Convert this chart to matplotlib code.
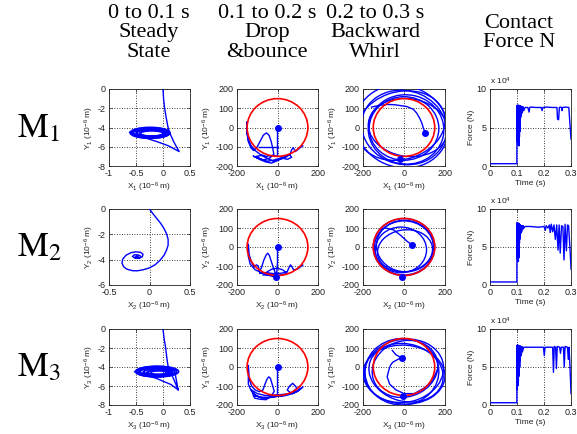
import matplotlib
matplotlib.use('Agg')
import matplotlib.pyplot as plt
from matplotlib.patches import Circle, Ellipse

plt.rcParams['font.family'] = ['Liberation Sans', 'DejaVu Sans']
plt.rcParams['mathtext.fontset'] = 'custom'
plt.rcParams['mathtext.rm'] = 'Liberation Sans'
plt.rcParams['mathtext.it'] = 'Liberation Sans:italic'
plt.rcParams['mathtext.bf'] = 'Liberation Sans:bold'
plt.rcParams['axes.unicode_minus'] = False

# ---------------- headers ----------------
col_titles = ["0 to 0.1 s\nSteady\nState", "0.1 to 0.2 s\nDrop\n&bounce",
              "0.2 to 0.3 s\nBackward\nWhirl", "Contact\nForce N"]
row_labels = ["1", "2", "3"]

# ---------------- steady state (10^-6 m) ----------------
ss1_x = [0.00, 0.01, 0.03, 0.06, 0.09, 0.12, 0.20, 0.30, 0.10, -0.12, -0.40, -0.62, -0.45, -0.20, 0.05, 0.12]
ss1_y = [0.00, -1.00, -2.00, -3.00, -3.90, -4.50, -5.50, -6.50, -5.90, -5.45, -4.95, -4.50, -4.20, -4.10, -4.20, -4.50]
ss1_loop_cx = [-0.24, -0.23, -0.22, -0.24, -0.21, -0.22, -0.23, -0.20, -0.21]
ss1_loop_cy = [-4.55, -4.57, -4.60, -4.52, -4.58, -4.62, -4.55, -4.60, -4.62]
ss1_loop_w = [0.74, 0.70, 0.66, 0.62, 0.58, 0.54, 0.50, 0.46, 0.42]
ss1_loop_h = [1.15, 1.08, 1.00, 0.92, 0.85, 0.78, 0.70, 0.62, 0.52]

ss2_x = [0.00, 0.04, 0.09, 0.14, 0.18, 0.21, 0.23, 0.23, 0.21, 0.18, 0.13, 0.07, 0.00, -0.08, -0.15,
         -0.21, -0.28, -0.32, -0.34, -0.33, -0.29, -0.23, -0.17, -0.11, -0.08, -0.09, -0.13, -0.18,
         -0.21, -0.19, -0.14, -0.11, -0.12, -0.16, -0.18, -0.16, -0.14, -0.15]
ss2_y = [0.00, -0.35, -0.75, -1.15, -1.55, -1.95, -2.40, -2.85, -3.25, -3.65, -4.05, -4.40, -4.65, -4.80, -4.88,
         -4.87, -4.75, -4.55, -4.25, -3.95, -3.65, -3.45, -3.38, -3.42, -3.58, -3.78, -3.90, -3.88,
         -3.75, -3.62, -3.62, -3.72, -3.85, -3.88, -3.80, -3.72, -3.75, -3.80]

ss3_x = [0.00, 0.02, 0.05, 0.07, 0.09, 0.12, 0.20, 0.28, 0.15, -0.10, -0.35, -0.53, -0.30, 0.00, 0.20, 0.23, 0.28]
ss3_y = [0.00, -1.00, -2.00, -3.00, -3.80, -4.30, -5.30, -6.40, -5.85, -5.25, -4.75, -4.50, -4.15, -4.05, -4.25, -4.85, -6.40]
ss3_loop_cx = [-0.11, -0.12, -0.10, -0.11, -0.12, -0.10, -0.11, -0.09, -0.10, -0.08]
ss3_loop_cy = [-4.48, -4.50, -4.46, -4.52, -4.49, -4.55, -4.50, -4.58, -4.55, -4.60]
ss3_loop_w = [0.80, 0.75, 0.70, 0.65, 0.60, 0.54, 0.48, 0.42, 0.36, 0.30]
ss3_loop_h = [1.15, 1.08, 1.00, 0.92, 0.84, 0.74, 0.64, 0.54, 0.45, 0.36]

# ---------------- drop & bounce (10^-6 m) ----------------
clearance_radius = 150

d1_x = [0, 0, 0, -25, -55, -85, -110, -130, -145, -152, -150, -151, -145, -132, -118, -100, -85, -70, -55,
        -42, -32, -24, -18, -40, -70, -100, -120, -90, -60, -30, 0, 25, 50, 70, 60, 40, 10, -20, -50, -80,
        -105, -80, -50, -20, 10, 40, 62, 70, 78, 88, 100, 112, 125]
d1_y = [0, -75, -150, -145, -150, -140, -120, -95, -60, -20, 30, -20, -70, -105, -120, -100, -70, -40, -28,
        -40, -70, -105, -140, -160, -168, -158, -148, -165, -178, -185, -172, -160, -165, -155, -140, -150,
        -160, -170, -175, -165, -150, -145, -160, -175, -165, -155, -140, -115, -105, -125, -115, -105, -95]
d1b_x = [-90, 0]
d1b_y = [-100, -100]
d1_dot_x = [0]
d1_dot_y = [0]

d2_x = [0, 0, -5, -40, -80, -110, -135, -144, -144, -140, -128, -115, -104, -95, -90, -80, -68, -55, -48, -40,
        -28, -16, -10, -40, -72, -50, -25, 0, 25, 48, 30, 0, -40, -88, -60, -20, 20, 48, 56, 64, 72, 80, 100, 125]
d2_y = [0, -80, -160, -150, -135, -120, -90, -50, 15, -40, -80, -105, -94, -100, -125, -112, -70, -40, -33, -45,
        -85, -121, -140, -148, -147, -130, -115, -112, -120, -138, -145, -150, -140, -138, -135, -140, -138,
        -130, -110, -94, -105, -121, -115, -95]
d2_dot_x = [0, -5]
d2_dot_y = [0, -160]

d3_x = [0, 0, 0, -30, -70, -105, -130, -144, -144, -140, -128, -110, -90, -72, -60, -50, -43, -35, -25, -16,
        -30, -56, -85, -112, -120, -100, -72, -40, 0, 40, 75, 100, 120, 100, 75, 60, 48, 60, 75, 88, 96, 70,
        30, -10, -50, -90, -120, -128, -100, -60, -20, 20, 60, 100, 125]
d3_y = [0, -75, -150, -160, -165, -150, -125, -90, 9, -60, -100, -121, -130, -121, -85, -60, -52, -60, -95,
        -129, -150, -172, -170, -164, -150, -155, -164, -160, -155, -150, -140, -125, -110, -128, -140, -132,
        -121, -100, -86, -100, -112, -135, -150, -155, -160, -158, -145, -121, -140, -150, -148, -145, -140,
        -125, -105]
d3_dot_x = [0]
d3_dot_y = [0]

# ---------------- backward whirl (10^-6 m) ----------------
w1_cx = [0, 10, -10, 0, 20, -15]
w1_cy = [0, -10, 5, -5, 0, 10]
w1_w = [420, 370, 460, 340, 390, 440]
w1_h = [380, 360, 420, 330, 300, 350]
w1_ang = [-25, -15, -30, 0, -10, 20]
w1_x = [-158, -120, -80, -44, 13, 45, 62, 78, 87, 95, 103]
w1_y = [106, 115, 120, 118, 109, 95, 75, 45, 23, -5, -28]
w1_dot_x = [103, -20]
w1_dot_y = [-30, -165]

w2_cx = [0, 0, 5, -15, 5]
w2_cy = [0, -5, 5, -15, -20]
w2_w = [300, 290, 280, 250, 270]
w2_h = [300, 285, 270, 240, 220]
w2_ang = [0, 0, -20, 0, 10]
w2_x = [-120, -90, -50, -15, 15, 40]
w2_y = [90, 100, 90, 60, 30, 10]
w2_dot_x = [40, -8]
w2_dot_y = [8, -160]

w3_cx = [0, 10, -10, 5, 0]
w3_cy = [-20, -30, -25, -10, -40]
w3_w = [390, 370, 360, 330, 400]
w3_h = [330, 300, 350, 290, 310]
w3_ang = [15, -20, 5, 30, -5]
w3_x = [-57, -40, -13, -30, -55, -66, -75, -82, -70, -40, 0, 50, 100, 140, 160]
w3_y = [87, 65, 49, 40, 25, 9, -20, -52, -90, -120, -140, -140, -110, -70, -20]
w3_dot_x = [-10, -5]
w3_dot_y = [48, -150]

# ---------------- contact force (x 10^4 N) ----------------
f1_t = [0.000, 0.050, 0.0995, 0.1000, 0.1010, 0.1015, 0.1020, 0.1025, 0.1030, 0.1035, 0.1040, 0.1045,
        0.1050, 0.1055, 0.1060, 0.1065, 0.1070, 0.1075, 0.1080, 0.1085, 0.1090, 0.1095, 0.1100, 0.1105,
        0.1110, 0.1115, 0.1120, 0.1125, 0.1130, 0.1140, 0.1150, 0.1160, 0.1170, 0.1180, 0.1200, 0.1220,
        0.1250, 0.1300, 0.1400, 0.1450, 0.1470, 0.1500, 0.1700, 0.1900, 0.1930, 0.1960, 0.2100, 0.2300,
        0.2480, 0.2500, 0.2540, 0.2570, 0.2600, 0.2650, 0.2670, 0.2690, 0.2800, 0.2920, 0.2950, 0.2980, 0.3000]
f1_v = [0.3, 0.3, 0.3, 7.8, 3.2, 7.9, 4.5, 7.8, 3.0, 7.9, 5.0, 7.7, 2.8, 7.8, 3.5, 7.9, 2.6, 7.8, 4.2, 7.7,
        3.8, 7.8, 5.0, 7.7, 4.5, 7.8, 5.8, 7.7, 6.2, 7.8, 6.5, 7.7, 6.8, 7.7, 7.0, 7.7, 7.2, 7.6, 7.6, 7.0,
        7.6, 7.65, 7.6, 7.6, 7.2, 7.6, 7.65, 7.6, 7.6, 6.1, 6.0, 7.6, 7.65, 7.6, 7.2, 7.6, 7.65, 7.6, 6.0,
        4.5, 3.5]

f2_t = [0.000, 0.050, 0.0995, 0.1000, 0.1010, 0.1015, 0.1020, 0.1025, 0.1030, 0.1035, 0.1040, 0.1045,
        0.1050, 0.1055, 0.1060, 0.1065, 0.1070, 0.1075, 0.1080, 0.1085, 0.1090, 0.1095, 0.1100, 0.1110,
        0.1120, 0.1130, 0.1140, 0.1150, 0.1170, 0.1190, 0.1210, 0.1230, 0.1260, 0.1300, 0.1500, 0.1800,
        0.2000, 0.2050, 0.2080, 0.2150, 0.2200, 0.2230, 0.2270, 0.2320, 0.2370, 0.2420, 0.2470, 0.2520,
        0.2560, 0.2600, 0.2650, 0.2700, 0.2740, 0.2780, 0.2830, 0.2870, 0.2910, 0.2950, 0.2990, 0.3000]
f2_v = [0.4, 0.4, 0.4, 8.2, 3.5, 8.1, 5.0, 8.2, 3.2, 8.0, 4.0, 8.1, 3.1, 8.0, 5.2, 8.1, 3.6, 8.0, 4.8, 7.9,
        5.5, 8.0, 6.0, 7.9, 6.3, 7.9, 6.8, 7.8, 7.0, 7.8, 7.3, 7.8, 7.5, 7.7, 7.7, 7.6, 7.7, 7.2, 7.8, 7.5,
        7.9, 6.9, 8.0, 7.0, 7.9, 6.0, 7.9, 4.6, 7.9, 4.2, 7.8, 7.7, 3.3, 8.0, 4.5, 7.9, 7.8, 5.5, 3.0, 2.1]

f3_t = [0.000, 0.050, 0.0995, 0.1000, 0.1010, 0.1015, 0.1020, 0.1025, 0.1030, 0.1035, 0.1040, 0.1045,
        0.1050, 0.1055, 0.1060, 0.1070, 0.1080, 0.1090, 0.1100, 0.1110, 0.1120, 0.1140, 0.1160, 0.1180,
        0.1200, 0.1250, 0.1400, 0.1700, 0.1980, 0.2010, 0.2040, 0.2200, 0.2320, 0.2350, 0.2380, 0.2430,
        0.2460, 0.2490, 0.2580, 0.2610, 0.2640, 0.2720, 0.2750, 0.2780, 0.2870, 0.2900, 0.2930, 0.2980, 0.3000]
f3_v = [0.3, 0.3, 0.3, 7.8, 2.0, 7.9, 3.5, 7.8, 2.5, 7.9, 4.0, 7.8, 3.0, 7.7, 4.5, 7.8, 3.8, 7.7, 5.0, 7.8,
        5.8, 7.7, 6.5, 7.7, 7.0, 7.6, 7.6, 7.6, 7.6, 6.5, 7.6, 7.6, 7.6, 4.3, 7.7, 7.6, 4.8, 7.7, 7.6, 6.8,
        7.6, 7.6, 5.0, 7.7, 7.6, 6.0, 7.6, 3.5, 1.5]

BLUE = '#0000ff'
RED = '#ff0000'
INK = '#222222'

W, H = 577, 434
fig = plt.figure(figsize=(W / 100, H / 100), dpi=100)

col_left = [109, 237, 363, 490]
col_width = [81, 81, 82, 81]
row_top = [89, 209, 329]
row_height = [77, 76, 76]


def add_ax(r, c):
    l, t, w, h = col_left[c], row_top[r], col_width[c], row_height[r]
    return fig.add_axes([l / W, 1 - (t + h) / H, w / W, h / H])


def setup(ax, xlim, ylim, xt, xtl, yt, ytl, xlabel, ylabel):
    ax.set_xlim(xlim)
    ax.set_ylim(ylim)
    ax.set_xticks(xt)
    ax.set_xticklabels(xtl)
    ax.set_yticks(yt)
    ax.set_yticklabels(ytl)
    ax.tick_params(direction='in', length=2.5, width=0.5, labelsize=6.5,
                   top=True, right=True, colors=INK, labelcolor=INK)
    ax.tick_params(axis='x', pad=2.4)
    ax.tick_params(axis='y', pad=2.4)
    ax.grid(True, color='k', ls=(0, (1, 2)), lw=0.6)
    ax.set_axisbelow(True)
    for s in ax.spines.values():
        s.set_linewidth(0.6)
        s.set_color(INK)
    ax.set_xlabel(xlabel, fontsize=6, labelpad=1.5, color=INK)
    ax.set_ylabel(ylabel, fontsize=6, labelpad=1.0, color=INK)


def add_loops(ax, cx, cy, w, h, ang=None, lw=1.0):
    for i in range(len(cx)):
        a = 0 if ang is None else ang[i]
        ax.add_patch(Ellipse((cx[i], cy[i]), w[i], h[i], angle=a, fill=False,
                             ec=BLUE, lw=lw, zorder=3))


def lbl(axis, n):
    return axis + '$_' + n + '$ (10$^{-6}$ m)'

# --- column 1 ---
steady = [
    (ss1_x, ss1_y, (ss1_loop_cx, ss1_loop_cy, ss1_loop_w, ss1_loop_h)),
    (ss2_x, ss2_y, None),
    (ss3_x, ss3_y, (ss3_loop_cx, ss3_loop_cy, ss3_loop_w, ss3_loop_h)),
]
for r in range(3):
    ax = add_ax(r, 0)
    x, y, loops = steady[r]
    if r == 1:
        setup(ax, (-0.5, 0.5), (-6, 0), [-0.5, 0, 0.5], ['-0.5', '0', '0.5'],
              [-6, -4, -2, 0], ['-6', '-4', '-2', '0'], lbl('X', row_labels[r]), lbl('Y', row_labels[r]))
    else:
        setup(ax, (-1, 0.5), (-8, 0), [-1, -0.5, 0, 0.5], ['-1', '-0.5', '0', '0.5'],
              [-8, -6, -4, -2, 0], ['-8', '-6', '-4', '-2', '0'], lbl('X', row_labels[r]), lbl('Y', row_labels[r]))
    ax.plot(x, y, color=BLUE, lw=1.0, zorder=3)
    if loops is not None:
        add_loops(ax, *loops, lw=1.1)

# --- column 2 ---
drops = [
    (d1_x, d1_y, d1_dot_x, d1_dot_y),
    (d2_x, d2_y, d2_dot_x, d2_dot_y),
    (d3_x, d3_y, d3_dot_x, d3_dot_y),
]
for r in range(3):
    ax = add_ax(r, 1)
    setup(ax, (-200, 200), (-200, 200), [-200, 0, 200], ['-200', '0', '200'],
          [-200, -100, 0, 100, 200], ['-200', '-100', '0', '100', '200'],
          lbl('X', row_labels[r]), lbl('Y', row_labels[r]))
    x, y, dx, dy = drops[r]
    ax.plot(x, y, color=BLUE, lw=1.0, zorder=3)
    if r == 0:
        ax.plot(d1b_x, d1b_y, color=BLUE, lw=1.0, zorder=3)
    ax.plot(dx, dy, 'o', color=BLUE, ms=4, zorder=5)
    ax.add_patch(Circle((0, 0), clearance_radius, fill=False, ec=RED, lw=1.2, zorder=4))

# --- column 3 ---
whirls = [
    (w1_cx, w1_cy, w1_w, w1_h, w1_ang, w1_x, w1_y, w1_dot_x, w1_dot_y),
    (w2_cx, w2_cy, w2_w, w2_h, w2_ang, w2_x, w2_y, w2_dot_x, w2_dot_y),
    (w3_cx, w3_cy, w3_w, w3_h, w3_ang, w3_x, w3_y, w3_dot_x, w3_dot_y),
]
for r in range(3):
    ax = add_ax(r, 2)
    setup(ax, (-200, 200), (-200, 200), [-200, 0, 200], ['-200', '0', '200'],
          [-200, -100, 0, 100, 200], ['-200', '-100', '0', '100', '200'],
          lbl('X', row_labels[r]), lbl('Y', row_labels[r]))
    cx, cy, w, h, a, x, y, dx, dy = whirls[r]
    add_loops(ax, cx, cy, w, h, a, lw=1.0)
    ax.plot(x, y, color=BLUE, lw=1.0, zorder=3)
    ax.plot(dx, dy, 'o', color=BLUE, ms=4, zorder=5)
    ax.add_patch(Circle((0, 0), clearance_radius, fill=False, ec=RED, lw=1.2, zorder=4))

# --- column 4 ---
forces = [(f1_t, f1_v), (f2_t, f2_v), (f3_t, f3_v)]
for r in range(3):
    ax = add_ax(r, 3)
    setup(ax, (0, 0.3), (0, 10), [0, 0.1, 0.2, 0.3], ['0', '0.1', '0.2', '0.3'],
          [0, 5, 10], ['0', '5', '10'], 'Time (s)', 'Force (N)')
    t, v = forces[r]
    ax.plot(t, v, color=BLUE, lw=1.0, zorder=3)
    ax.text(0.0, 1.03, 'x 10$^4$', transform=ax.transAxes, fontsize=6, ha='left', va='bottom',
            color=INK)

# --- header texts ---
header_x = [149, 267, 375, 519]
header_top = [4, 4, 4, 14]
for i, txt in enumerate(col_titles):
    fig.text(header_x[i] / W, 1 - header_top[i] / H, txt, ha='center', va='top',
             family='Liberation Serif', fontsize=16, linespacing=1.03)

for r in range(3):
    yc = row_top[r] + row_height[r] / 2
    fig.text(17 / W, 1 - yc / H, r'$\mathrm{M}_{' + row_labels[r] + '}$', ha='left', va='center',
             fontsize=25, math_fontfamily='stix')

fig.savefig('out.png', dpi=100)
